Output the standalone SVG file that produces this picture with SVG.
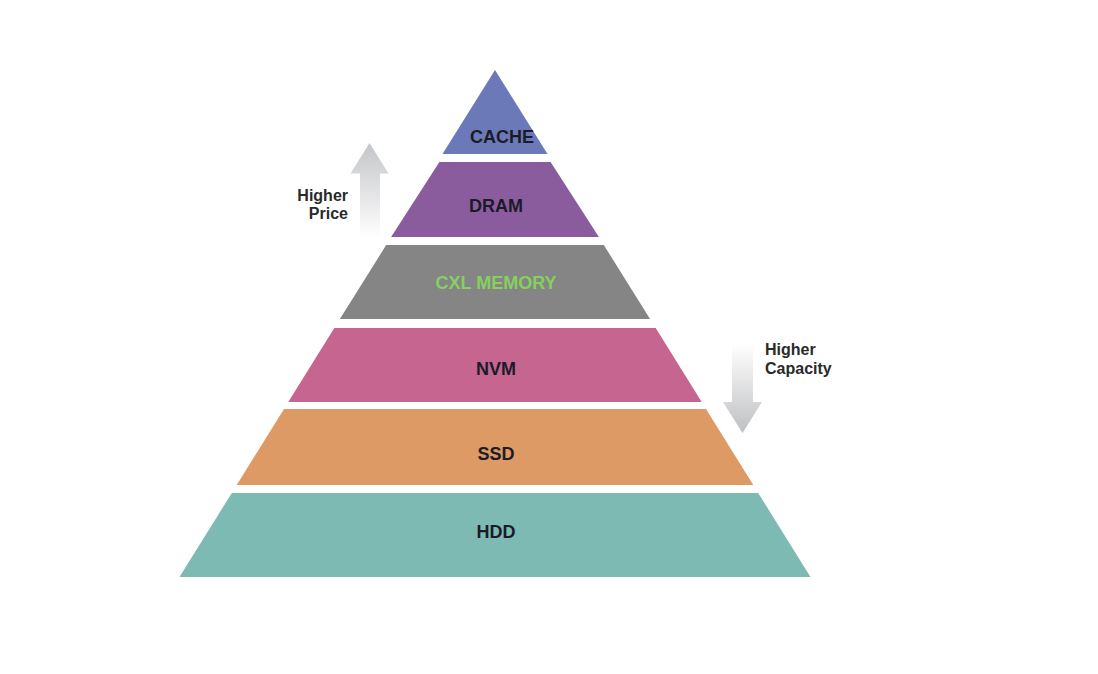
<svg xmlns="http://www.w3.org/2000/svg" width="1098" height="674" viewBox="0 0 1098 674">
<defs>
<linearGradient id="gUp" x1="0" y1="0" x2="0" y2="1">
<stop offset="0" stop-color="#c4c5c8"/>
<stop offset="1" stop-color="#ffffff"/>
</linearGradient>
<linearGradient id="gDown" x1="0" y1="0" x2="0" y2="1">
<stop offset="0" stop-color="#ffffff"/>
<stop offset="1" stop-color="#bfc0c3"/>
</linearGradient>
</defs>
<style>
.lbl{font-family:"Liberation Sans",Arial,sans-serif;font-weight:bold;font-size:18px;text-anchor:middle;fill:#1b1b28}
.side{font-family:"Liberation Sans",Arial,sans-serif;font-weight:bold;font-size:16px;fill:#2a2a2a}
</style>
<rect width="1098" height="674" fill="#ffffff"/>
<g id="cache">
<polygon points="495,70 547.5,154 442.5,154" fill="#6b79b8"/>
<text class="lbl" x="502" y="142.5">CACHE</text>
</g>
<g id="dram">
<polygon points="439.4,162 550.6,162 598.9,237 391.1,237" fill="#8a5c9e"/>
<text class="lbl" x="496" y="212">DRAM</text>
</g>
<g id="cxl">
<polygon points="386.2,245 603.8,245 650.1,319 339.9,319" fill="#858585"/>
<text class="lbl" x="496" y="289" style="fill:#86d05f">CXL MEMORY</text>
</g>
<g id="nvm">
<polygon points="334.3,328 655.7,328 701.7,402 288.3,402" fill="#c56590"/>
<text class="lbl" x="496" y="374.5">NVM</text>
</g>
<g id="ssd">
<polygon points="284,409 706,409 753.3,485 236.7,485" fill="#de9a64"/>
<text class="lbl" x="496" y="459.5">SSD</text>
</g>
<g id="hdd">
<polygon points="231.8,493 758.2,493 810.5,577 179.5,577" fill="#7dbab3"/>
<text class="lbl" x="496" y="537.5">HDD</text>
</g>
<g id="connectors">
<polygon points="369.5,143 388.5,173.5 380,173.5 380,238 360,238 360,173.5 350.5,173.5" fill="url(#gUp)"/>
<polygon points="732,344 753,344 753,402 762,402 742.5,433 723,402 732,402" fill="url(#gDown)"/>
</g>
<g id="price">
<text class="side" x="348" y="200.5" text-anchor="end">Higher</text>
<text class="side" x="348" y="219" text-anchor="end">Price</text>
</g>
<g id="capacity">
<text class="side" x="765" y="354.5">Higher</text>
<text class="side" x="765" y="374">Capacity</text>
</g>
</svg>
